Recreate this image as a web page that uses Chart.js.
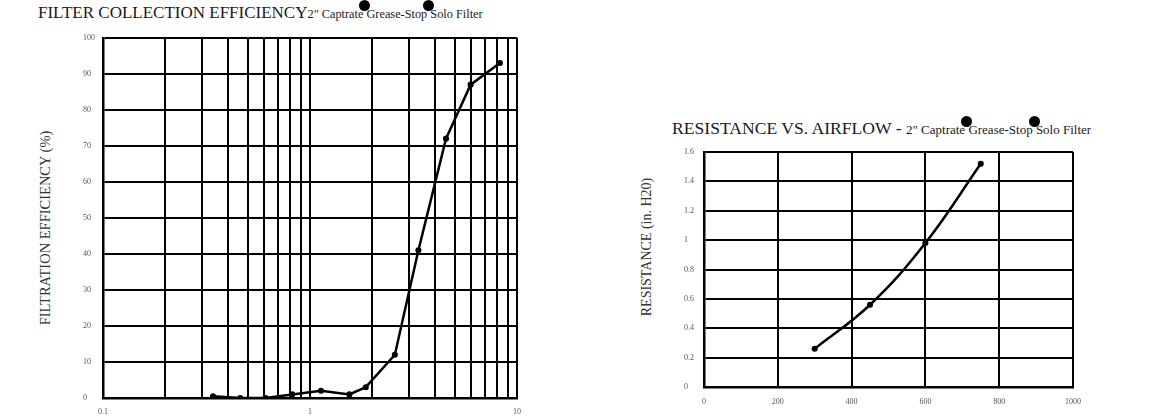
<!DOCTYPE html>
<html>
<head>
<meta charset="utf-8">
<script src="https://cdn.jsdelivr.net/npm/chart.js@4/dist/chart.umd.min.js"></script>
<style>
  body { margin: 0; background: #fff; width: 1168px; height: 416px; position: relative; overflow: hidden;
         font-family: "Liberation Serif", "DejaVu Serif", serif; color: #1a1a1a; }
  .title { position: absolute; white-space: nowrap; font-size: 17px; line-height: 17px; }
  .title .sub { font-family: "Liberation Serif", serif; font-size: 12.3px; }
  .dot { display: inline-block; width: 0; position: relative; }
  .dot::after { content: ""; position: absolute; left: -7px; top: -18.5px; width: 11px; height: 11px;
                border-radius: 50%; background: #000; }
  .ytitle { position: absolute; white-space: nowrap; font-size: 14.5px; color: #333;
            transform: translate(-50%, -50%) rotate(-90deg); }
  .box { position: absolute; }
</style>
</head>
<body>

<div class="title" style="left:38px; top:4px">FILTER COLLECTION EFFICIENCY<span class="sub">2" Captrate <span class="dot"></span>Grease-Stop <span class="dot"></span>Solo Filter</span></div>
<div class="ytitle" style="left:45px; top:228px">FILTRATION EFFICIENCY (%)</div>
<div class="box" style="left:0; top:30px"><canvas id="effChart" width="540" height="386"></canvas></div>

<div class="title" style="left:672px; top:120px; font-size:17.6px">RESISTANCE VS. AIRFLOW - <span class="sub" style="font-size:13px">2" Captrate <span class="dot"></span>Grease-Stop <span class="dot"></span>Solo Filter</span></div>
<div class="ytitle" style="left:647px; top:247px; font-size:14px">RESISTANCE (in. H20)</div>
<div class="box" style="left:600px; top:140px"><canvas id="resChart" width="568" height="276"></canvas></div>

<script>
// filter collection efficiency vs particle size (log axis)
const particleSizes = [0.34, 0.46, 0.61, 0.82, 1.13, 1.55, 1.86, 2.57, 3.34, 4.54, 5.97, 8.27];
const efficiency = [0.5, 0, 0, 1, 2, 1, 3, 12, 41, 72, 87, 93];
const sizeGridTicks = [0.1, 0.2, 0.3, 0.4, 0.5, 0.6, 0.7, 0.8, 0.9, 1, 2, 3, 4, 5, 6, 7, 8, 9, 10];
const sizeLabelTicks = [0.1, 1, 10];

// resistance vs airflow
const airflow = [300, 450, 600, 750];
const resistance = [0.26, 0.56, 0.98, 1.52];

const tickFont = { family: 'Liberation Serif', size: 8 };
const tickColor = '#555';
const gridStyle = { color: '#000', lineWidth: 2, drawTicks: false };
const borderStyle = { color: '#000', width: 2.5 };
const plainNumber = (v) => String(Math.round(v * 10) / 10);

new Chart(document.getElementById('effChart'), {
    type: 'line',
    data: {
        datasets: [{
            data: particleSizes.map((x, i) => ({ x: x, y: efficiency[i] })),
            borderColor: '#000',
            backgroundColor: '#000',
            borderWidth: 2.5,
            pointRadius: 1.8,
            tension: 0
        }]
    },
    options: {
        responsive: false,
        animation: false,
        events: [],
        layout: { padding: { left: 83, right: 23, top: 7, bottom: 0 } },
        plugins: { legend: { display: false }, tooltip: { enabled: false } },
        scales: {
            x: {
                type: 'logarithmic',
                min: 0.1,
                max: 10,
                afterBuildTicks: (scale) => { scale.ticks = sizeGridTicks.map(v => ({ value: v })); },
                afterFit: (scale) => { scale.height = 18; },
                grid: gridStyle,
                border: borderStyle,
                ticks: {
                    autoSkip: false, maxRotation: 0, padding: 9, font: tickFont, color: tickColor,
                    callback: (v) => sizeLabelTicks.includes(v) ? String(v) : ''
                }
            },
            y: {
                min: 0,
                max: 100,
                afterFit: (scale) => { scale.width = 20; },
                grid: gridStyle,
                border: borderStyle,
                ticks: { stepSize: 10, crossAlign: 'far', font: tickFont, color: tickColor, callback: plainNumber }
            }
        }
    }
});

new Chart(document.getElementById('resChart'), {
    type: 'line',
    data: {
        datasets: [{
            data: airflow.map((x, i) => ({ x: x, y: resistance[i] })),
            borderColor: '#000',
            backgroundColor: '#000',
            borderWidth: 2.5,
            pointRadius: 1.8,
            tension: 0.4
        }]
    },
    options: {
        responsive: false,
        animation: false,
        events: [],
        layout: { padding: { left: 84, right: 95, top: 12, bottom: 0 } },
        plugins: { legend: { display: false }, tooltip: { enabled: false } },
        scales: {
            x: {
                type: 'linear',
                min: 0,
                max: 1000,
                afterFit: (scale) => { scale.height = 29; },
                grid: gridStyle,
                border: borderStyle,
                ticks: { stepSize: 200, maxRotation: 0, padding: 10, font: tickFont, color: tickColor, callback: plainNumber }
            },
            y: {
                min: 0,
                max: 1.6,
                afterFit: (scale) => { scale.width = 20; },
                grid: gridStyle,
                border: borderStyle,
                ticks: { stepSize: 0.2, crossAlign: 'far', font: tickFont, color: tickColor, callback: plainNumber }
            }
        }
    }
});
</script>
</body>
</html>
